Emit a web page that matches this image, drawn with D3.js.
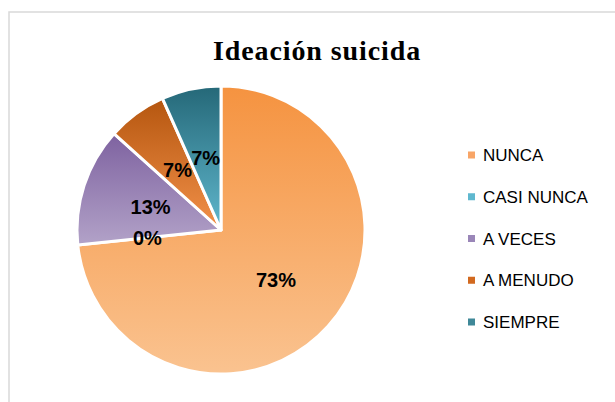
<!DOCTYPE html>
<html>
<head>
<meta charset="utf-8">
<script src="https://cdn.jsdelivr.net/npm/d3@7"></script>
<style>
  body { margin: 0; background: #fff; }
  svg { display: block; }
</style>
</head>
<body>
<div id="chart"></div>
<script>
// chart data
const categories = ["NUNCA", "CASI NUNCA", "A VECES", "A MENUDO", "SIEMPRE"];
const counts = [11, 0, 2, 1, 1];
const pctLabels = ["73%", "0%", "13%", "7%", "7%"];
const topColors = ["#f59340", "#3c9fbb", "#7e62a0", "#b5560f", "#256878"];
const bottomColors = ["#fac390", "#5fb8cf", "#b2a2c8", "#f2914a", "#60b7cd"];
const legendColors = ["#f8a567", "#5fb8cf", "#9a86b8", "#d2691f", "#3f8898"];

const WIDTH = 615, HEIGHT = 402;
const CX = 221, CY = 230, RADIUS = 144;

const svg = d3.select("#chart")
  .append("svg")
    .attr("width", WIDTH)
    .attr("height", HEIGHT);

// frame of the chart area
svg.append("rect")
  .attr("x", 9).attr("y", 12)
  .attr("width", 640).attr("height", 420)
  .attr("fill", "none")
  .attr("stroke", "#d9d9d9")
  .attr("stroke-width", 1.5);

svg.append("text")
  .attr("x", 317)
  .attr("y", 60)
  .attr("text-anchor", "middle")
  .attr("font-family", "'Liberation Serif', 'DejaVu Serif', serif")
  .attr("font-size", "28px")
  .attr("font-weight", "bold")
  .attr("letter-spacing", "0.9px")
  .attr("fill", "#000")
  .text("Ideación suicida");

const data = categories.map((k, i) => ({ k, v: counts[i], i }));

// vertical gradients per slice, spanning each slice's own bounding box
const pie = d3.pie().sort(null).value(d => d.v);
const arcs = pie(data);
const arc = d3.arc().innerRadius(0).outerRadius(RADIUS);
const labelArc = d3.arc().innerRadius(74).outerRadius(74);

const defs = svg.append("defs");
arcs.forEach(a => {
  const g = defs.append("linearGradient")
    .attr("id", "grad" + a.data.i)
    .attr("x1", 0).attr("y1", 0).attr("x2", 0).attr("y2", 1);
  g.append("stop").attr("offset", "0%").attr("stop-color", topColors[a.data.i]);
  g.append("stop").attr("offset", "100%").attr("stop-color", bottomColors[a.data.i]);
});

const pieG = svg.append("g")
  .attr("transform", "translate(" + CX + "," + CY + ")");

pieG.selectAll("allSlices")
  .data(arcs.filter(a => a.data.v > 0))
  .enter()
  .append("path")
    .attr("d", arc)
    .attr("fill", d => "url(#grad" + d.data.i + ")")
    .attr("stroke", "white")
    .attr("stroke-width", 3)
    .attr("stroke-linejoin", "round");

pieG.selectAll("allLabels")
  .data(arcs)
  .enter()
  .append("text")
    .attr("transform", d => "translate(" + labelArc.centroid(d) + ")")
    .attr("text-anchor", "middle")
    .attr("dy", "0.36em")
    .attr("font-family", "'Liberation Sans', Arial, sans-serif")
    .attr("font-size", "20px")
    .attr("font-weight", "bold")
    .attr("fill", "#000")
    .text((d, i) => pctLabels[i]);

// legend
const legendY = d3.scalePoint()
  .domain(categories)
  .range([155, 322]);

const legend = svg.append("g");
legend.selectAll("legendDots")
  .data(categories)
  .enter()
  .append("rect")
    .attr("x", 468)
    .attr("y", d => legendY(d) - 3.5)
    .attr("width", 7).attr("height", 7)
    .attr("fill", (d, i) => legendColors[i]);

legend.selectAll("legendLabels")
  .data(categories)
  .enter()
  .append("text")
    .attr("x", 483)
    .attr("y", d => legendY(d))
    .attr("dy", "0.36em")
    .attr("font-family", "'Liberation Sans', Arial, sans-serif")
    .attr("font-size", "17px")
    .attr("fill", "#000")
    .text(d => d);
</script>
</body>
</html>
